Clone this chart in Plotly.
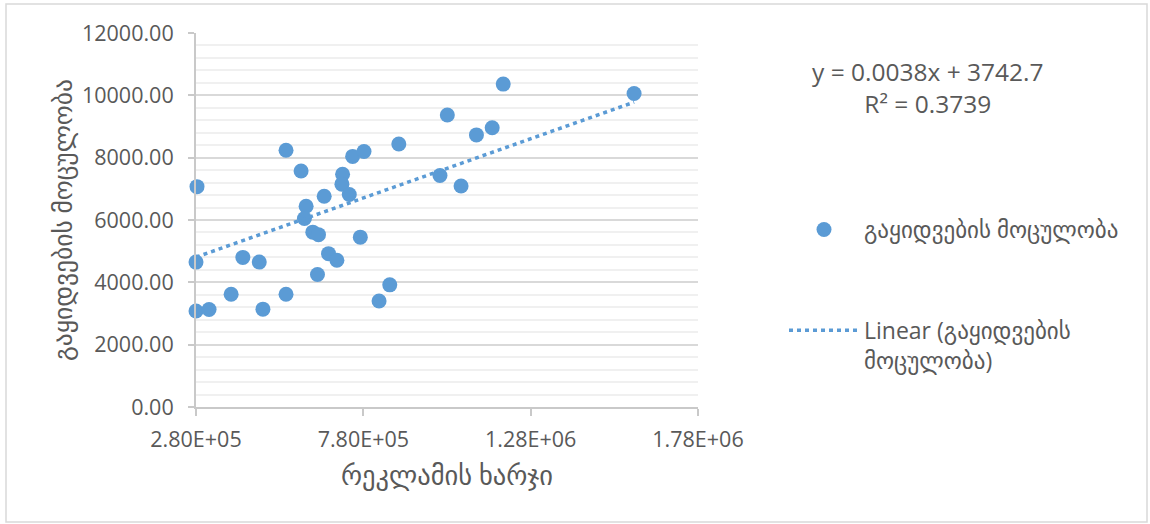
import plotly.graph_objects as go

# ---- data ----
ad_spend = [283000, 280000, 280000, 319000, 385000, 420000, 469000, 480000, 549000,
            549000, 594000, 609000, 604000, 629000, 646000, 643000, 676000, 701000,
            771000, 827000, 859000, 663000, 718000, 716000, 738000, 748000, 782000,
            886000, 1031000, 1009000, 1072000, 1118000, 1198000, 1165000, 1589000]
sales_volume = [7070, 4650, 3080, 3130, 3620, 4800, 4650, 3140, 3620,
                8240, 7570, 6440, 6050, 5610, 5530, 4250, 4920, 4710,
                5450, 3400, 3920, 6760, 7470, 7150, 6820, 8040, 8200,
                8440, 9370, 7430, 7090, 8730, 10360, 8960, 10060]

TREND_SLOPE = 0.0038
TREND_INTERCEPT = 3742.7
R_SQUARED = 0.3739

x_tick_values = [280000, 780000, 1280000, 1780000]
x_tick_labels = ["2.80E+05", "7.80E+05", "1.28E+06", "1.78E+06"]

series_name = "გაყიდვების მოცულობა"
trend_name = "Linear (გაყიდვების<br>მოცულობა)"
x_title = "რეკლამის ხარჯი"
y_title = "გაყიდვების მოცულობა"

BLUE = "#5b9bd5"
TEXT = "#595959"
FONT = "Open Sans, DejaVu Sans, sans-serif"

W, H = 1150, 524
ML, MR, MT, MB = 196, 452, 33, 117
PW, PH = W - ML - MR, H - MT - MB


def px_to_paper(px, py):
    return (px - ML) / PW, (H - MB - py) / PH


trend_x = [min(ad_spend), max(ad_spend)]
trend_y = [TREND_SLOPE * v + TREND_INTERCEPT for v in trend_x]

fig = go.Figure()
fig.add_trace(go.Scatter(
    x=ad_spend, y=sales_volume, mode="markers", name=series_name,
    marker=dict(color=BLUE, size=15, line=dict(width=0)),
    legendgroup="a", cliponaxis=False,
))
fig.add_trace(go.Scatter(
    x=trend_x, y=trend_y, mode="lines", name=trend_name,
    line=dict(color=BLUE, width=3.5, dash="4px,4px"),
    legendgroup="b", cliponaxis=False,
))

bx0, by0 = px_to_paper(6, 4)
bx1, by1 = px_to_paper(1147, 522)
fig.add_shape(type="rect", xref="paper", yref="paper", x0=bx0, y0=by1, x1=bx1, y1=by0,
              line=dict(color="#d9d9d9", width=1.5), fillcolor="rgba(0,0,0,0)", layer="below")

ax, ay = px_to_paper(928, 87)
fig.add_annotation(
    xref="paper", yref="paper", x=ax, y=ay, xanchor="center", yanchor="middle",
    text=f"y = {TREND_SLOPE}x + {TREND_INTERCEPT}<br>R² = {R_SQUARED}",
    showarrow=False, align="center", font=dict(family=FONT, size=24.5, color=TEXT),
)

lx, ly = px_to_paper(784, 208)
fig.update_layout(
    width=W, height=H,
    margin=dict(l=ML, r=MR, t=MT, b=MB, pad=0),
    paper_bgcolor="white", plot_bgcolor="white",
    font=dict(family=FONT, size=21, color=TEXT),
    showlegend=True,
    legend=dict(
        x=lx, y=ly, xanchor="left", yanchor="top",
        font=dict(family=FONT, size=23, color=TEXT),
        itemwidth=70, tracegroupgap=68, traceorder="grouped", valign="top",
        bgcolor="rgba(0,0,0,0)",
    ),
    xaxis=dict(
        range=[280000, 1780000], tickvals=x_tick_values, ticktext=x_tick_labels,
        showgrid=False, zeroline=False,
        showline=True, linecolor="#c9c9c9", linewidth=2,
        ticks="outside", ticklen=7, tickcolor="#c9c9c9", tickwidth=2,
        ticklabelstandoff=5,
        tickfont=dict(family=FONT, size=21.5, color=TEXT),
        title=dict(text=x_title, font=dict(family=FONT, size=26.5, color=TEXT), standoff=15),
    ),
    yaxis=dict(
        range=[0, 12000], dtick=2000, tickformat=".2f",
        showgrid=True, gridcolor="#d9d9d9", gridwidth=1.5,
        minor=dict(dtick=400, showgrid=True, gridcolor="#f0f0f0", gridwidth=1.5),
        zeroline=False,
        showline=True, linecolor="#c9c9c9", linewidth=2,
        ticks="outside", ticklen=6, tickcolor="#c9c9c9", tickwidth=2,
        ticklabelstandoff=10,
        tickfont=dict(family=FONT, size=21.5, color=TEXT),
        title=dict(text=y_title, font=dict(family=FONT, size=25.5, color=TEXT), standoff=2),
    ),
)

fig.write_html("out.html")
